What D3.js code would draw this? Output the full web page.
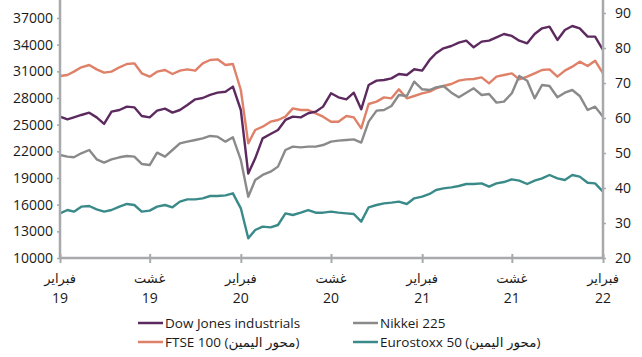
<!DOCTYPE html>
<html>
<head>
<meta charset="utf-8">
<script src="https://cdn.jsdelivr.net/npm/d3@7"></script>
<style>
  body { margin: 0; background: #fff; }
  text { font-family: "Open Sans", "DejaVu Sans", sans-serif; fill: #1a1a1a; }
</style>
</head>
<body>
<svg width="642" height="357"></svg>
<script>
// semi-monthly readings, 1 Feb 2019 .. 1 Feb 2022
var dowJones = [25900, 25600, 25820, 26090, 26350, 25820, 25080, 26460, 26650, 27030,
  26950, 25980, 25820, 26580, 26800, 26350, 26650, 27210, 27850, 28000,
  28340, 28600, 28710, 29280, 26650, 19500, 21210, 23460, 23950, 24400,
  25530, 25900, 25820, 26280, 26460, 27030, 28530, 28080, 27850, 28600,
  26730, 29460, 29950, 30030, 30210, 30700, 30590, 31230, 31080, 32280,
  33030, 33590, 33850, 34230, 34450, 33700, 34340, 34450, 34830, 35200,
  34980, 34450, 34150, 35200, 35840, 36030, 34530, 35650, 36100, 35840,
  34900, 34900, 33400];

var nikkei = [21590, 21400, 21330, 21780, 22150, 21100, 20730, 21100, 21330, 21480,
  21400, 20580, 20460, 21850, 21400, 22150, 22900, 23090, 23280, 23460,
  23730, 23650, 23090, 23580, 21030, 16900, 18780, 19340, 19710, 20280,
  22150, 22530, 22450, 22530, 22530, 22710, 23090, 23200, 23280, 23350,
  22980, 25340, 26580, 26650, 27100, 28340, 28230, 29840, 28980, 28900,
  29200, 29350, 28600, 28080, 28600, 29090, 28340, 28450, 27480, 27590,
  28530, 30480, 29950, 27960, 29460, 29350, 28080, 28600, 28900, 28230,
  26650, 27030, 25900];

var ftse = [7200, 7229, 7324, 7448, 7514, 7390, 7295, 7324, 7448, 7543,
  7562, 7276, 7181, 7324, 7371, 7257, 7352, 7390, 7352, 7562,
  7657, 7676, 7514, 7543, 6800, 5276, 5657, 5752, 5895, 5943,
  6038, 6276, 6229, 6229, 6133, 6038, 5895, 5895, 6057, 6019,
  5705, 6400, 6467, 6590, 6562, 6819, 6562, 6629, 6705, 6752,
  6848, 6914, 6971, 7067, 7105, 7114, 7162, 6990, 7181, 7229,
  7276, 7105, 7181, 7276, 7371, 7390, 7181, 7352, 7467, 7610,
  7486, 7638, 7276];

var eurostoxx = [3276, 3371, 3324, 3467, 3486, 3390, 3324, 3371, 3467, 3543,
  3514, 3324, 3352, 3467, 3514, 3448, 3610, 3676, 3676, 3705,
  3771, 3771, 3790, 3848, 3419, 2562, 2800, 2895, 2876, 2943,
  3276, 3229, 3295, 3371, 3295, 3295, 3324, 3295, 3276, 3257,
  3038, 3448, 3514, 3562, 3581, 3610, 3543, 3705, 3752, 3829,
  3943, 3990, 4019, 4057, 4114, 4114, 4133, 4038, 4133, 4171,
  4248, 4210, 4114, 4210, 4276, 4371, 4276, 4229, 4371, 4324,
  4152, 4133, 3895];

var leftTicks = [10000, 13000, 16000, 19000, 22000, 25000, 28000, 31000, 34000, 37000];
var rightTicks = [2000, 3000, 4000, 5000, 6000, 7000, 8000, 9000];
var tickMonths = ["فبراير", "غشت"];
var tickYears = ["19", "19", "20", "20", "21", "21", "22"];

var series = [
  {name: "FTSE 100 (محور اليمين)", values: ftse, axis: "right", color: "#df8068"},
  {name: "Eurostoxx 50 (محور اليمين)", values: eurostoxx, axis: "right", color: "#3a8a89"},
  {name: "Nikkei 225", values: nikkei, axis: "left", color: "#8a8a8a"},
  {name: "Dow Jones industrials", values: dowJones, axis: "left", color: "#5d2a5f"}
];

var svg = d3.select("svg"),
    left = 60, right = 603, top = 10, bottom = 258,
    axisColor = "#a7a9ac";

var dates = dowJones.map(function(d, i) {
  return new Date(2019, 1 + Math.floor(i / 2), i % 2 ? 16 : 1);
});

var x = d3.scaleTime()
  .domain([new Date(2019, 1, 1), new Date(2022, 1, 1)])
  .range([left, right]);

var yLeft = d3.scaleLinear().domain([10000, 37000]).range([bottom, 18]);
var yRight = d3.scaleLinear().domain([2000, 9000]).range([bottom, 13]);

// lines
series.forEach(function(s) {
  var y = s.axis == "left" ? yLeft : yRight;
  var line = d3.line()
    .x(function(d, i) { return x(dates[i]); })
    .y(function(d) { return y(d); });
  svg.append("path")
    .datum(s.values)
    .attr("fill", "none")
    .attr("stroke", s.color)
    .attr("stroke-width", 2.4)
    .attr("stroke-linejoin", "round")
    .attr("d", line);
});

// left axis
var gl = svg.append("g")
  .attr("transform", "translate(" + left + ",0)")
  .call(d3.axisLeft(yLeft).tickValues(leftTicks).tickSize(3).tickPadding(4).tickFormat(d3.format("d")));
gl.select(".domain").remove();
gl.selectAll("line").attr("stroke", axisColor).attr("stroke-width", 1.5);
gl.selectAll("text").style("font-size", "14px");

// right axis
var gr = svg.append("g")
  .attr("transform", "translate(" + right + ",0)")
  .call(d3.axisRight(yRight).tickValues(rightTicks).tickSize(3).tickPadding(9)
    .tickFormat(function(d) { return d / 100; }));
gr.select(".domain").remove();
gr.selectAll("line").attr("stroke", axisColor).attr("stroke-width", 1.5);
gr.selectAll("text").style("font-size", "14px");

// x axis
var xTicks = d3.range(7).map(function(i) { return new Date(2019, 1 + i * 6, 1); });
var gx = svg.append("g")
  .attr("transform", "translate(0," + bottom + ")")
  .call(d3.axisBottom(x).tickValues(xTicks).tickSize(5).tickFormat(""));
gx.select(".domain").remove();
gx.selectAll("line").attr("y1", -4).attr("stroke", axisColor).attr("stroke-width", 2);

xTicks.forEach(function(t, i) {
  svg.append("text")
    .attr("x", x(t)).attr("y", 283)
    .attr("text-anchor", "middle")
    .style("font-size", "13px")
    .text(tickMonths[i % 2]);
  svg.append("text")
    .attr("x", x(t)).attr("y", 303)
    .attr("text-anchor", "middle")
    .style("font-size", "14px")
    .text(tickYears[i]);
});

// axis lines
svg.append("line").attr("x1", left).attr("x2", left).attr("y1", top).attr("y2", bottom)
  .attr("stroke", axisColor).attr("stroke-width", 2.5);
svg.append("line").attr("x1", right).attr("x2", right).attr("y1", top).attr("y2", bottom)
  .attr("stroke", axisColor).attr("stroke-width", 2.5);
svg.append("line").attr("x1", left).attr("x2", right).attr("y1", bottom).attr("y2", bottom)
  .attr("stroke", axisColor).attr("stroke-width", 2.5);

// legend
var legendOrder = [3, 2, 0, 1];
legendOrder.forEach(function(k, i) {
  var s = series[k],
      lx = i % 2 ? 353 : 138,
      ly = i < 2 ? 323 : 342;
  svg.append("line")
    .attr("x1", lx).attr("x2", lx + 25).attr("y1", ly).attr("y2", ly)
    .attr("stroke", s.color).attr("stroke-width", 2.5);
  svg.append("text")
    .attr("x", lx + 27).attr("y", ly + 5)
    .style("font-size", "13.5px")
    .text(s.name);
});
</script>
</body>
</html>
